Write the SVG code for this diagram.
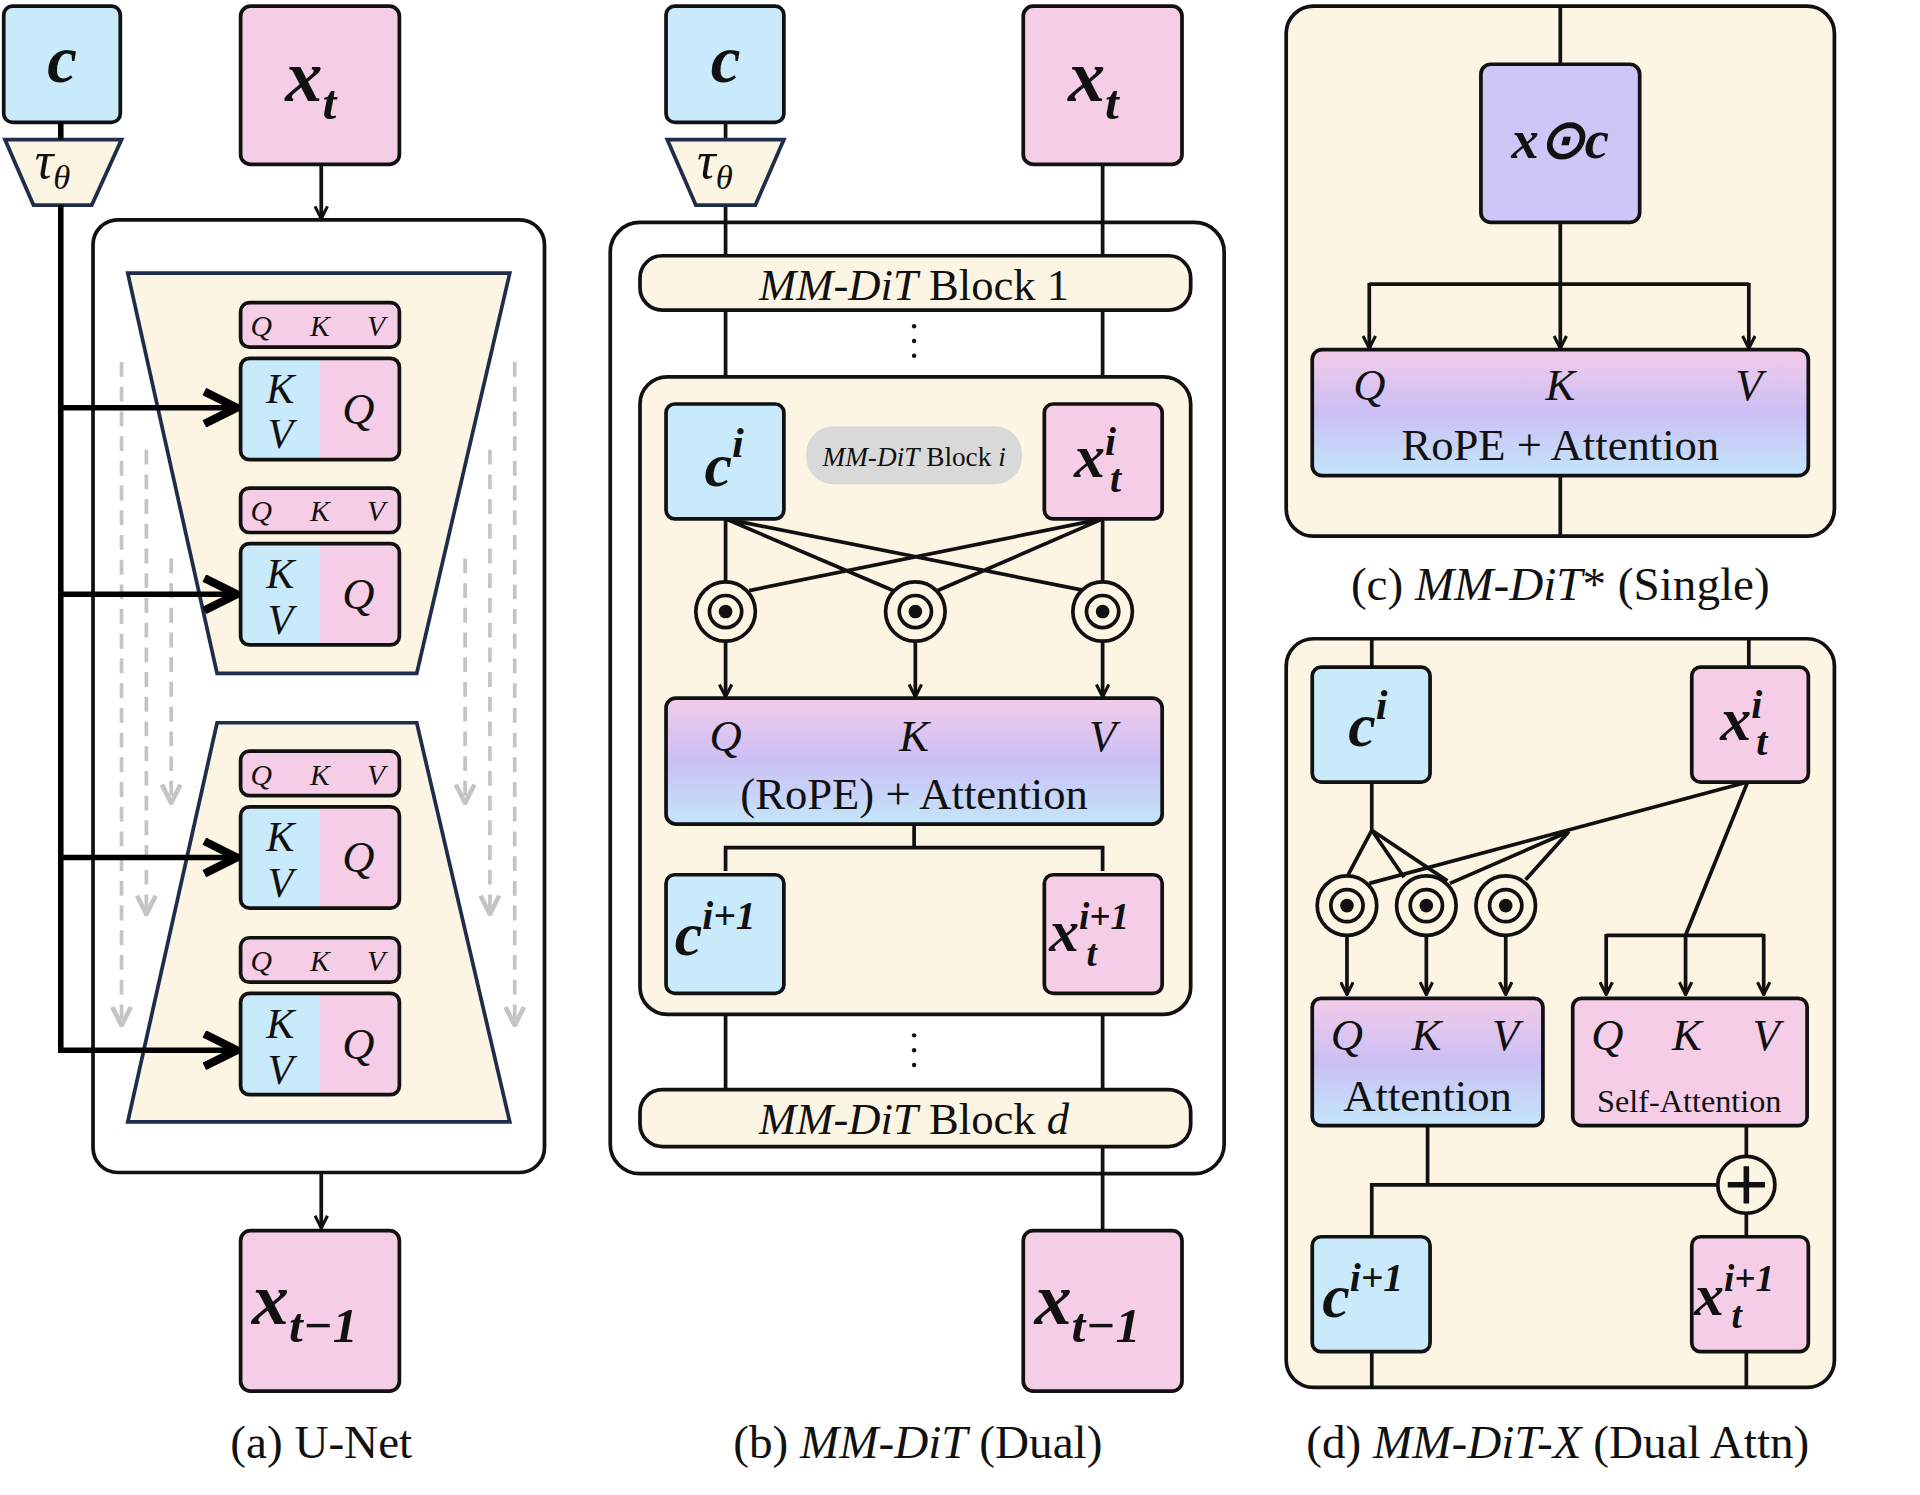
<svg xmlns="http://www.w3.org/2000/svg" width="1920" height="1495" viewBox="0 0 1920 1495">
<style>
.bl{fill:#c8eafa;stroke:#111;stroke-width:3}
.pk{fill:#f5cde6;stroke:#111;stroke-width:3}
.pu{fill:#cfc5f7;stroke:#111;stroke-width:3}
.cr{fill:#fdf5e3;stroke:#111;stroke-width:3}
.gr{fill:url(#g);stroke:#111;stroke-width:3}
.nv{fill:#fdf5e3;stroke:#1f2d4d;stroke-width:3}
.ln{fill:none;stroke:#111;stroke-width:3}
.th{fill:none;stroke:#000;stroke-width:4.5}
.ds{fill:none;stroke:#c4c4c4;stroke-width:3;stroke-dasharray:12 8}
.m{font-family:"Liberation Serif",serif;font-style:italic;font-weight:bold;fill:#111}
.mi{font-family:"Liberation Serif",serif;font-style:italic;fill:#111}
.t{font-family:"Liberation Serif",serif;fill:#111}
</style>
<defs>
<linearGradient id="g" x1="0" y1="0" x2="0" y2="1">
<stop offset="0" stop-color="#f3cbe8"/><stop offset="0.5" stop-color="#cbbff5"/><stop offset="1" stop-color="#c3e6fb"/>
</linearGradient>
<marker id="a" viewBox="0 0 12 12" refX="11" refY="6" markerWidth="12" markerHeight="12" markerUnits="userSpaceOnUse" orient="auto"><path d="M1,1 L11,6 L1,11" fill="none" stroke="#111" stroke-width="2.5"/></marker>
<marker id="at" viewBox="0 0 12 12" refX="11" refY="6" markerWidth="7" markerHeight="7" orient="auto"><path d="M1,1 L11,6 L1,11" fill="none" stroke="#000" stroke-width="2.5"/></marker>
<marker id="ag" viewBox="0 0 12 12" refX="11" refY="6" markerWidth="6" markerHeight="6" orient="auto"><path d="M1,1 L11,6 L1,11" fill="none" stroke="#c4c4c4" stroke-width="2.5"/></marker>
<g id="od"><circle r="24" fill="#fdf5e3" stroke="#111" stroke-width="3"/><circle r="13" fill="none" stroke="#111" stroke-width="3"/><circle r="5.5" fill="#111"/></g>
</defs>
<rect width="1920" height="1495" fill="#fff"/>
<g transform="scale(1.2403 1.2355)">

<!-- Panel a -->
<g id="a-outer"><rect x="75" y="178" width="364" height="771" rx="20" fill="#fff" stroke="#111" stroke-width="3"/></g>
<g id="a-trap-up"><polygon class="nv" points="103,221 411,221 336,545 175,545"/></g>
<g id="a-trap-down"><polygon class="nv" points="175,585 336,585 411,908 103,908"/></g>
<g id="a-dashes">
<path class="ds" d="M98,293 V830" marker-end="url(#ag)"/>
<path class="ds" d="M118,364 V740" marker-end="url(#ag)"/>
<path class="ds" d="M138,452 V650" marker-end="url(#ag)"/>
<path class="ds" d="M415,293 V830" marker-end="url(#ag)"/>
<path class="ds" d="M395,364 V740" marker-end="url(#ag)"/>
<path class="ds" d="M375,452 V650" marker-end="url(#ag)"/>
</g>
<g id="a-c"><rect class="bl" x="3" y="5" width="94" height="94" rx="7"/><text class="m" x="50" y="66" font-size="54" text-anchor="middle">c</text></g>
<g id="a-tau"><polygon class="nv" points="4,113 98,113 74,166 27,166"/><text class="mi" x="28" y="144" font-size="42">τ<tspan font-size="28" dy="9">θ</tspan></text></g>
<g id="a-xt"><rect class="pk" x="194" y="5" width="128" height="128" rx="8"/><text class="m" x="230" y="82" font-size="60">x<tspan font-size="40" dy="14">t</tspan></text></g>
<g id="a-xt1"><rect class="pk" x="194" y="996" width="128" height="130" rx="8"/><text class="m" x="203" y="1072" font-size="60">x<tspan font-size="40" dy="14">t−1</tspan></text></g>
<g id="a-blocks">
<g id="a-b1"><rect class="pk" x="194" y="245" width="128" height="36" rx="7"/><text class="mi" font-size="24" y="272"><tspan x="202">Q</tspan><tspan x="250">K</tspan><tspan x="296">V</tspan></text>
<rect x="194" y="290" width="128" height="82" rx="7" fill="#f5cde6"/><path d="M201,290 H258 V372 H201 A7,7 0 0 1 194,365 V297 A7,7 0 0 1 201,290Z" fill="#c8eafa"/><rect x="194" y="290" width="128" height="82" rx="7" fill="none" stroke="#111" stroke-width="3"/>
<text class="mi" font-size="34" text-anchor="middle"><tspan x="226" y="326">K</tspan><tspan x="226" y="363">V</tspan></text><text class="mi" x="289" y="343" font-size="36" text-anchor="middle">Q</text></g>
<g id="a-b2" transform="translate(0,150)"><rect class="pk" x="194" y="245" width="128" height="36" rx="7"/><text class="mi" font-size="24" y="272"><tspan x="202">Q</tspan><tspan x="250">K</tspan><tspan x="296">V</tspan></text>
<rect x="194" y="290" width="128" height="82" rx="7" fill="#f5cde6"/><path d="M201,290 H258 V372 H201 A7,7 0 0 1 194,365 V297 A7,7 0 0 1 201,290Z" fill="#c8eafa"/><rect x="194" y="290" width="128" height="82" rx="7" fill="none" stroke="#111" stroke-width="3"/>
<text class="mi" font-size="34" text-anchor="middle"><tspan x="226" y="326">K</tspan><tspan x="226" y="363">V</tspan></text><text class="mi" x="289" y="343" font-size="36" text-anchor="middle">Q</text></g>
<g id="a-b3" transform="translate(0,363)"><rect class="pk" x="194" y="245" width="128" height="36" rx="7"/><text class="mi" font-size="24" y="272"><tspan x="202">Q</tspan><tspan x="250">K</tspan><tspan x="296">V</tspan></text>
<rect x="194" y="290" width="128" height="82" rx="7" fill="#f5cde6"/><path d="M201,290 H258 V372 H201 A7,7 0 0 1 194,365 V297 A7,7 0 0 1 201,290Z" fill="#c8eafa"/><rect x="194" y="290" width="128" height="82" rx="7" fill="none" stroke="#111" stroke-width="3"/>
<text class="mi" font-size="34" text-anchor="middle"><tspan x="226" y="326">K</tspan><tspan x="226" y="363">V</tspan></text><text class="mi" x="289" y="343" font-size="36" text-anchor="middle">Q</text></g>
<g id="a-b4" transform="translate(0,514)"><rect class="pk" x="194" y="245" width="128" height="36" rx="7"/><text class="mi" font-size="24" y="272"><tspan x="202">Q</tspan><tspan x="250">K</tspan><tspan x="296">V</tspan></text>
<rect x="194" y="290" width="128" height="82" rx="7" fill="#f5cde6"/><path d="M201,290 H258 V372 H201 A7,7 0 0 1 194,365 V297 A7,7 0 0 1 201,290Z" fill="#c8eafa"/><rect x="194" y="290" width="128" height="82" rx="7" fill="none" stroke="#111" stroke-width="3"/>
<text class="mi" font-size="34" text-anchor="middle"><tspan x="226" y="326">K</tspan><tspan x="226" y="363">V</tspan></text><text class="mi" x="289" y="343" font-size="36" text-anchor="middle">Q</text></g>
</g>
<g id="a-conn">
<path class="th" d="M49,99 V113 M49,166 V850 H191" marker-end="url(#at)"/>
<path class="th" d="M49,330 H191" marker-end="url(#at)"/>
<path class="th" d="M49,481 H191" marker-end="url(#at)"/>
<path class="th" d="M49,694 H191" marker-end="url(#at)"/>
<path class="ln" d="M259,133 V177" marker-end="url(#a)"/>
<path class="ln" d="M259,949 V994" marker-end="url(#a)"/>
</g>
<text class="t" x="259" y="1180" font-size="38" text-anchor="middle">(a) U-Net</text>

<!-- Panel b -->
<g id="b-outer"><rect x="492" y="180" width="495" height="770" rx="24" fill="#fff" stroke="#111" stroke-width="3"/></g>
<g id="b-conn0">
<path class="ln" d="M585,99 V113 M585,166 V207 M889,133 V207 M585,251 V327 M889,251 V327 M585,805 V882 M889,805 V882 M889,928 V996"/>
</g>
<g id="b-blk1"><rect class="cr" x="516" y="207" width="444" height="44" rx="18"/><text class="t" x="737" y="243" font-size="36" text-anchor="middle"><tspan font-style="italic">MM-DiT</tspan> Block 1</text></g>
<g id="b-dots1" fill="#111"><circle cx="737" cy="264" r="1.8"/><circle cx="737" cy="276" r="1.8"/><circle cx="737" cy="288" r="1.8"/></g>
<g id="b-inner"><rect class="cr" x="516" y="305" width="444" height="516" rx="22"/></g>
<g id="b-ci"><rect class="bl" x="537" y="327" width="95" height="93" rx="7"/><text class="m" x="568" y="393" font-size="50">c<tspan font-size="34" dy="-23">i</tspan></text></g>
<g id="b-label"><rect x="650" y="345" width="174" height="47" rx="22" fill="#d9d9d9"/><text class="t" x="737" y="377" font-size="22" text-anchor="middle"><tspan font-style="italic">MM-DiT</tspan> Block <tspan font-style="italic">i</tspan></text></g>
<g id="b-xi"><rect class="pk" x="842" y="327" width="95" height="93" rx="7"/><text class="m" x="866" y="386" font-size="50">x<tspan font-size="32" dy="-18">i</tspan><tspan font-size="32" x="895" dy="30">t</tspan></text></g>
<g id="b-conn1">
<path class="ln" d="M585,420 V471 M585,420 L720,478 M585,420 L875,478 M889,420 V471 M889,420 L604,478 M889,420 L756,478"/>
<path class="ln" d="M585,519 V564" marker-end="url(#a)"/>
<path class="ln" d="M738,519 V564" marker-end="url(#a)"/>
<path class="ln" d="M889,519 V564" marker-end="url(#a)"/>
<path class="ln" d="M737,666 V686 H585 V705 M737,686 H889 V705"/>
</g>
<g id="b-od"><use href="#od" x="585" y="495"/><use href="#od" x="738" y="495"/><use href="#od" x="889" y="495"/></g>
<g id="b-att"><rect class="gr" x="537" y="565" width="400" height="102" rx="8"/><text class="mi" font-size="36" y="608" text-anchor="middle"><tspan x="585">Q</tspan><tspan x="737">K</tspan><tspan x="889">V</tspan></text><text class="t" x="737" y="655" font-size="36" text-anchor="middle">(RoPE) + Attention</text></g>
<g id="b-ci1"><rect class="bl" x="537" y="708" width="95" height="96" rx="7"/><text class="m" x="544" y="773" font-size="50">c<tspan font-size="32" dy="-21">i+1</tspan></text></g>
<g id="b-xi1"><rect class="pk" x="842" y="708" width="95" height="96" rx="7"/><text class="m" x="846" y="770" font-size="48">x<tspan font-size="30" dy="-18">i+1</tspan><tspan font-size="30" x="876" dy="30">t</tspan></text></g>
<g id="b-dots2" fill="#111"><circle cx="737" cy="838" r="1.8"/><circle cx="737" cy="850" r="1.8"/><circle cx="737" cy="862" r="1.8"/></g>
<g id="b-blkd"><rect class="cr" x="516" y="882" width="444" height="46" rx="18"/><text class="t" x="737" y="918" font-size="36" text-anchor="middle"><tspan font-style="italic">MM-DiT</tspan> Block <tspan font-style="italic">d</tspan></text></g>
<g id="b-c"><rect class="bl" x="537" y="5" width="95" height="94" rx="7"/><text class="m" x="585" y="66" font-size="54" text-anchor="middle">c</text></g>
<g id="b-tau"><polygon class="nv" points="538,113 632,113 609,166 561,166"/><text class="mi" x="562" y="144" font-size="42">τ<tspan font-size="28" dy="9">θ</tspan></text></g>
<g id="b-xt"><rect class="pk" x="825" y="5" width="128" height="128" rx="8"/><text class="m" x="861" y="82" font-size="60">x<tspan font-size="40" dy="14">t</tspan></text></g>
<g id="b-xt1"><rect class="pk" x="825" y="996" width="128" height="130" rx="8"/><text class="m" x="834" y="1072" font-size="60">x<tspan font-size="40" dy="14">t−1</tspan></text></g>
<text class="t" x="740" y="1180" font-size="38" text-anchor="middle">(b) <tspan font-style="italic">MM-DiT</tspan> (Dual)</text>

<!-- Panel c -->
<g id="c-outer"><rect class="cr" x="1037" y="5" width="442" height="429" rx="22"/></g>
<g id="c-conn">
<path class="ln" d="M1258,5 V52 M1258,180 V230 M1104,230 H1410 M1258,385 V434"/>
<path class="ln" d="M1104,229 V282" marker-end="url(#a)"/>
<path class="ln" d="M1258,230 V282" marker-end="url(#a)"/>
<path class="ln" d="M1410,229 V282" marker-end="url(#a)"/>
</g>
<g id="c-xc"><rect class="pu" x="1194" y="52" width="128" height="128" rx="8"/><text class="m" x="1258" y="128" font-size="44" text-anchor="middle">x⊙c</text></g>
<g id="c-att"><rect class="gr" x="1058" y="283" width="400" height="102" rx="8"/><text class="mi" font-size="36" y="324" text-anchor="middle"><tspan x="1104">Q</tspan><tspan x="1258">K</tspan><tspan x="1410">V</tspan></text><text class="t" x="1258" y="372" font-size="36" text-anchor="middle">RoPE + Attention</text></g>
<text class="t" x="1258" y="486" font-size="38" text-anchor="middle">(c) <tspan font-style="italic">MM-DiT</tspan>* (Single)</text>

<!-- Panel d -->
<g id="d-outer"><rect class="cr" x="1037" y="517" width="442" height="606" rx="22"/></g>
<g id="d-conn">
<path class="ln" d="M1106,517 V540 M1410,517 V540 M1106,633 V672 L1087,708 M1106,672 L1132,710 M1106,672 L1167,713 M1409,633 L1104,715 M1265,673 L1169,715 M1265,673 L1230,712 M1409,633 L1359,757 M1295,757 H1422"/>
<path class="ln" d="M1295,756 V805" marker-end="url(#a)"/>
<path class="ln" d="M1359,757 V805" marker-end="url(#a)"/>
<path class="ln" d="M1422,756 V805" marker-end="url(#a)"/>
<path class="ln" d="M1086,756 V805" marker-end="url(#a)"/>
<path class="ln" d="M1150,756 V805" marker-end="url(#a)"/>
<path class="ln" d="M1214,756 V805" marker-end="url(#a)"/>
<path class="ln" d="M1151,910 V959 M1106,1001 V959 H1385 M1408,910 V936 M1408,982 V1001 M1106,1094 V1123 M1408,1094 V1123"/>
</g>
<g id="d-od"><use href="#od" x="1086" y="733"/><use href="#od" x="1150" y="733"/><use href="#od" x="1214" y="733"/></g>
<g id="d-ci"><rect class="bl" x="1058" y="540" width="95" height="93" rx="7"/><text class="m" x="1087" y="604" font-size="50">c<tspan font-size="34" dy="-22">i</tspan></text></g>
<g id="d-xi"><rect class="pk" x="1364" y="540" width="94" height="93" rx="7"/><text class="m" x="1387" y="599" font-size="50">x<tspan font-size="32" dy="-18">i</tspan><tspan font-size="32" x="1416" dy="30">t</tspan></text></g>
<g id="d-att"><rect class="gr" x="1058" y="808" width="186" height="103" rx="7"/><text class="mi" font-size="36" y="850" text-anchor="middle"><tspan x="1086">Q</tspan><tspan x="1150">K</tspan><tspan x="1214">V</tspan></text><text class="t" x="1151" y="899" font-size="36" text-anchor="middle">Attention</text></g>
<g id="d-sat"><rect class="pk" x="1268" y="808" width="189" height="103" rx="7"/><text class="mi" font-size="36" y="850" text-anchor="middle"><tspan x="1296">Q</tspan><tspan x="1360">K</tspan><tspan x="1424">V</tspan></text><text class="t" x="1362" y="900" font-size="26" text-anchor="middle">Self-Attention</text></g>
<g id="d-plus"><circle cx="1408" cy="959" r="23" fill="#fdf5e3" stroke="#111" stroke-width="3"/><path d="M1393,959 H1423 M1408,944 V974" stroke="#111" stroke-width="4.5"/></g>
<g id="d-ci1"><rect class="bl" x="1058" y="1001" width="95" height="93" rx="7"/><text class="m" x="1066" y="1066" font-size="50">c<tspan font-size="32" dy="-21">i+1</tspan></text></g>
<g id="d-xi1"><rect class="pk" x="1364" y="1001" width="94" height="93" rx="7"/><text class="m" x="1366" y="1064" font-size="48">x<tspan font-size="30" dy="-19">i+1</tspan><tspan font-size="30" x="1396" dy="30">t</tspan></text></g>
<text class="t" x="1256" y="1180" font-size="38" text-anchor="middle">(d) <tspan font-style="italic">MM-DiT-X</tspan> (Dual Attn)</text>
</g>
</svg>
